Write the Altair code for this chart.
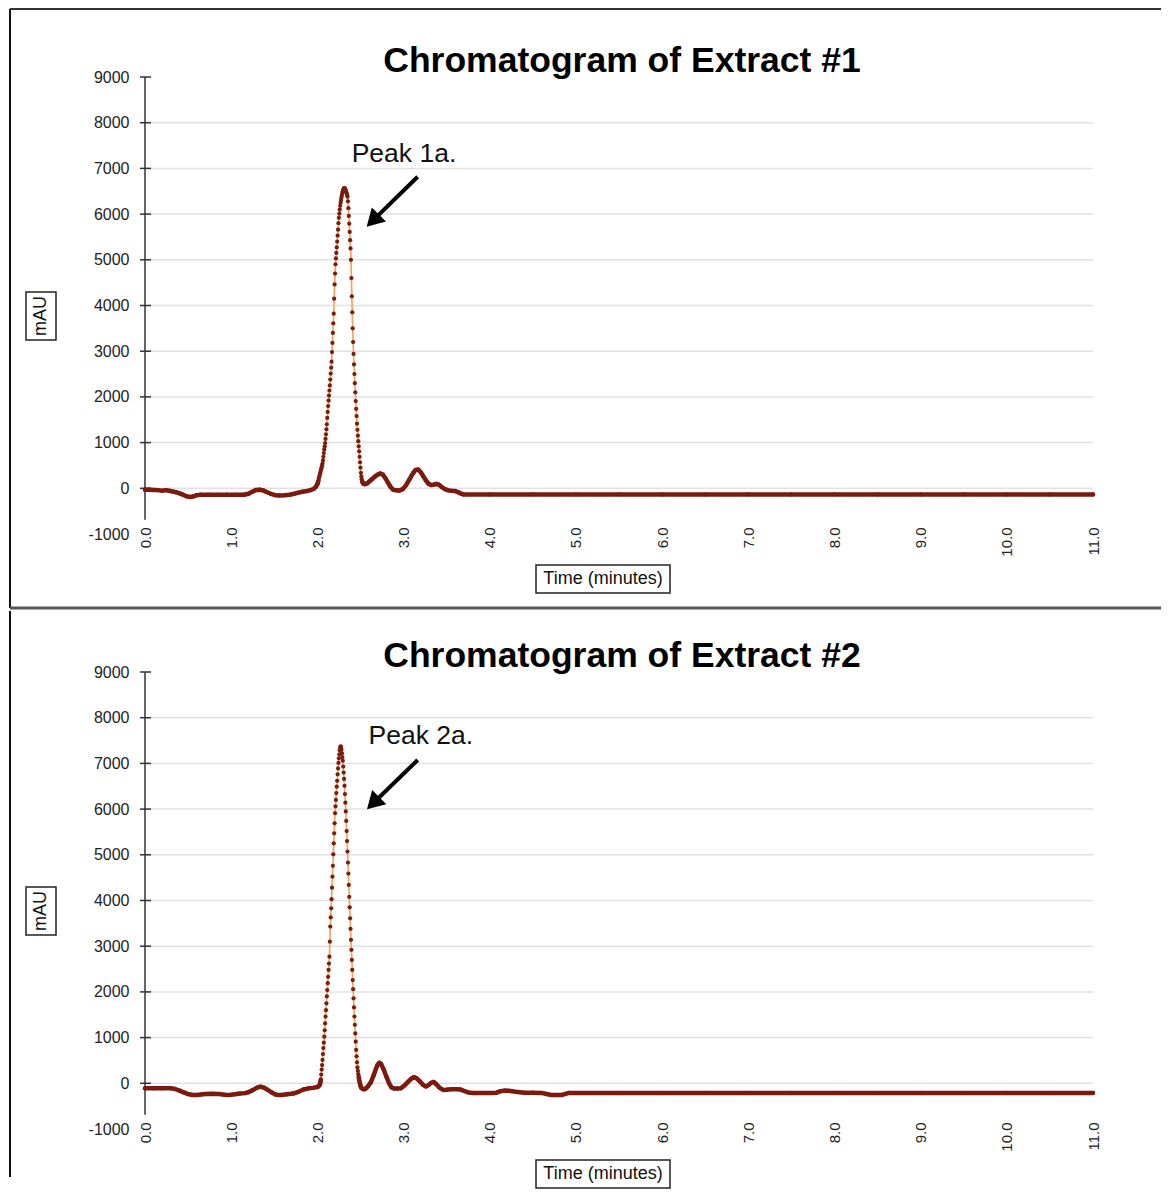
import altair as alt
import pandas as pd

# ---------------- data ----------------
# Extract #1 : retention time (min) and signal (mAU)
time_1 = [
    0.00, 0.05, 0.10, 0.15, 0.20, 0.24, 0.28, 0.32, 0.36, 0.40,
    0.44, 0.48, 0.52, 0.56, 0.60, 0.65, 0.75, 0.85, 0.95, 1.05,
    1.15, 1.20, 1.25, 1.29, 1.33, 1.37, 1.41, 1.46, 1.51, 1.56,
    1.62, 1.68, 1.73, 1.78, 1.83, 1.88, 1.92, 1.96, 1.98,
    2.000, 2.005, 2.010, 2.015, 2.020, 2.025, 2.030, 2.035, 2.040, 2.045,
    2.050, 2.055, 2.060, 2.065, 2.070, 2.075, 2.080, 2.085, 2.090, 2.095,
    2.100, 2.105, 2.110, 2.115, 2.120, 2.125, 2.130, 2.135, 2.140, 2.145,
    2.150, 2.155, 2.160, 2.165, 2.170, 2.175, 2.180, 2.185, 2.190, 2.195,
    2.200, 2.205, 2.210, 2.215, 2.220, 2.225, 2.230, 2.235, 2.240, 2.245,
    2.250, 2.255, 2.260, 2.265, 2.270, 2.275, 2.280, 2.285, 2.290, 2.295,
    2.300, 2.305, 2.310, 2.315, 2.320, 2.325, 2.330, 2.335, 2.340, 2.345,
    2.350, 2.355, 2.360, 2.365, 2.370, 2.375, 2.380, 2.385, 2.390, 2.395,
    2.400, 2.405, 2.410, 2.415, 2.420, 2.425, 2.430, 2.435, 2.440, 2.445,
    2.450, 2.455, 2.460, 2.465, 2.470, 2.475, 2.480, 2.485, 2.490, 2.495,
    2.500, 2.505, 2.510, 2.515, 2.520, 2.525, 2.530, 2.540, 2.550, 2.560,
    2.58, 2.61, 2.64, 2.67, 2.70, 2.73, 2.76, 2.79, 2.82, 2.85,
    2.88, 2.91, 2.95, 2.99, 3.03, 3.07, 3.11, 3.14, 3.17, 3.20,
    3.23, 3.26, 3.29, 3.32, 3.35, 3.38, 3.41, 3.44, 3.48, 3.52,
    3.56, 3.60, 3.64, 3.67, 3.70,
    4.0, 4.5, 5.0, 5.5, 6.0, 6.5, 7.0, 7.5, 8.0, 8.5, 9.0, 9.5, 10.0, 10.5, 11.0,
]
mau_1 = [
    -30, -30, -35, -40, -55, -40, -55, -70, -85, -110,
    -140, -175, -190, -180, -150, -140, -140, -140, -140, -140,
    -140, -120, -70, -35, -30, -45, -80, -120, -150, -155,
    -150, -140, -120, -95, -75, -60, -40, -10, 30,
    90, 120, 150, 190, 240, 270, 310, 350, 390, 420,
    460, 500, 540, 610, 690, 770, 850, 920, 990, 1080,
    1180, 1290, 1400, 1540, 1670, 1800, 1920, 2030, 2140, 2250,
    2380, 2510, 2640, 2770, 2980, 3180, 3400, 3610, 3820, 4150,
    4460, 4700, 4900, 5030, 5150, 5270, 5400, 5530, 5660, 5800,
    5920, 6010, 6100, 6180, 6250, 6310, 6370, 6420, 6460, 6500,
    6530, 6550, 6570, 6570, 6560, 6540, 6510, 6480, 6450, 6420,
    6380, 6280, 6130, 5960, 5790, 5610, 5430, 5250, 5000, 4600,
    4200, 3850, 3500, 3200, 2940, 2710, 2500, 2300, 2100, 1910,
    1740, 1580, 1415, 1280, 1150, 1030, 920, 810, 690, 570,
    450, 340, 260, 200, 160, 130, 110, 95, 90, 95,
    110, 160, 210, 260, 300, 325, 300, 220, 120, 30,
    -30, -45, -50, -20, 70, 200, 330, 400, 410, 350,
    260, 170, 100, 70, 80, 95, 80, 30, -20, -45,
    -55, -60, -90, -120, -135,
    -135, -135, -135, -135, -135, -135, -135, -135, -135, -135, -135, -135, -135, -135, -135,
]

# Extract #2
time_2 = [
    0.00, 0.10, 0.20, 0.30, 0.35, 0.40, 0.45, 0.50, 0.55, 0.60,
    0.65, 0.70, 0.78, 0.86, 0.92, 0.98, 1.04, 1.10, 1.16, 1.20,
    1.25, 1.30, 1.34, 1.38, 1.42, 1.47, 1.52, 1.58, 1.65, 1.72,
    1.78, 1.84, 1.90, 1.95,
    2.000, 2.005, 2.010, 2.015, 2.020, 2.025, 2.030, 2.035, 2.040, 2.045,
    2.050, 2.055, 2.060, 2.065, 2.070, 2.075, 2.080, 2.085, 2.090, 2.095,
    2.100, 2.105, 2.110, 2.115, 2.120, 2.125, 2.130, 2.135, 2.140, 2.145,
    2.150, 2.155, 2.160, 2.165, 2.170, 2.175, 2.180, 2.185, 2.190, 2.195,
    2.200, 2.205, 2.210, 2.215, 2.220, 2.225, 2.230, 2.235, 2.240, 2.245,
    2.250, 2.255, 2.260, 2.265, 2.270, 2.275, 2.280, 2.285, 2.290, 2.295,
    2.300, 2.305, 2.310, 2.315, 2.320, 2.325, 2.330, 2.335, 2.340, 2.345,
    2.350, 2.355, 2.360, 2.365, 2.370, 2.375, 2.380, 2.385, 2.390, 2.395,
    2.400, 2.405, 2.410, 2.415, 2.420, 2.425, 2.430, 2.435, 2.440, 2.445,
    2.450, 2.455, 2.460, 2.465, 2.470, 2.475, 2.480, 2.485, 2.490, 2.495,
    2.500, 2.505, 2.510,
    2.52, 2.535, 2.55, 2.57, 2.59, 2.62, 2.65, 2.68, 2.70, 2.72,
    2.74, 2.77, 2.80, 2.83, 2.86, 2.89, 2.93, 2.97, 3.01, 3.05,
    3.09, 3.12, 3.15, 3.19, 3.23, 3.26, 3.29, 3.32, 3.35, 3.38,
    3.42, 3.46, 3.50, 3.55, 3.61, 3.66, 3.70, 3.75, 3.80, 3.90,
    4.00, 4.08, 4.12, 4.17, 4.22, 4.30, 4.40, 4.50, 4.60, 4.66,
    4.71, 4.78, 4.84, 4.88, 4.92,
    5.0, 5.5, 6.0, 6.5, 7.0, 7.5, 8.0, 8.5, 9.0, 9.5, 10.0, 10.5, 11.0,
]
mau_2 = [
    -110, -110, -110, -110, -125, -160, -200, -235, -255, -255,
    -245, -235, -230, -235, -250, -255, -240, -225, -215, -195,
    -150, -95, -75, -95, -140, -200, -250, -255, -240, -225,
    -185, -135, -110, -100,
    -80, -75, -70, -60, -50, -40, -20, 20, 80, 190,
    300, 400, 510, 640, 770, 890, 1020, 1160, 1310, 1460,
    1600, 1750, 1900, 2040, 2190, 2330, 2480, 2620, 2770, 3100,
    3430, 3630, 3830, 4030, 4280, 4520, 4760, 5010, 5250, 5470,
    5690, 5910, 6060, 6200, 6350, 6490, 6620, 6760, 6890, 7010,
    7110, 7200, 7290, 7350, 7370, 7360, 7300, 7220, 7140, 7060,
    6930, 6800, 6660, 6510, 6330, 6140, 5950, 5740, 5520, 5300,
    5070, 4830, 4590, 4340, 4080, 3850, 3610, 3380, 3140, 2920,
    2700, 2480, 2260, 2060, 1860, 1660, 1460, 1280, 1090, 910,
    730, 590, 460, 350, 270, 200, 140, 80, 30, -10,
    -50, -80, -100,
    -115, -130, -130, -100, -60, 20, 160, 320, 410, 450,
    420, 300, 150, 10, -90, -115, -115, -110, -50, 30,
    100, 135, 110, 40, -40, -70, -40, 10, 30, -20,
    -100, -145, -140, -130, -130, -135, -165, -200, -210, -210,
    -210, -205, -175, -160, -165, -185, -205, -205, -210, -235,
    -255, -255, -255, -230, -210,
    -210, -210, -210, -210, -210, -210, -210, -210, -210, -210, -210, -210, -210,
]

chart_titles = ["Chromatogram of Extract #1", "Chromatogram of Extract #2"]
peak_labels = ["Peak 1a.", "Peak 2a."]
peak_label_time = [3.005, 3.20]
peak_label_mau = [7133, 7425]
arrow_start_time = [3.164, 3.164]
arrow_start_mau = [6818, 7074]
arrow_head_time = [2.643, 2.647]
arrow_head_mau = [5858, 6129]

x_title = "Time (minutes)"
y_title = "mAU"
x_tick_values = [0, 1, 2, 3, 4, 5, 6, 7, 8, 9, 10, 11]
y_label_values = [-1000, 0, 1000, 2000, 3000, 4000, 5000, 6000, 7000, 8000, 9000]
y_tick_values = [0, 1000, 2000, 3000, 4000, 5000, 6000, 7000, 8000, 9000]
grid_values = [0, 1000, 2000, 3000, 4000, 5000, 6000, 7000, 8000]
axis_line_range = [-690, 9000]

assert len(time_1) == len(mau_1), (len(time_1), len(mau_1))
assert len(time_2) == len(mau_2), (len(time_2), len(mau_2))

# ---------------- styling ----------------
FONT = "Liberation Sans"
DARK = "#7b1a0e"
ORANGE = "#f4a460"
W, H = 948, 457
# where the dense sampling makes the trace look like a solid band
SOLID_EXPR = "(datum.t < 2.0 || datum.t > 2.55 || datum.v <= 150) ? datum.v : null"

xscale = alt.Scale(domain=[0, 11], nice=False, zero=False)
yscale = alt.Scale(domain=[-1000, 9000], nice=False, zero=False)

xaxis = alt.Axis(title=None, values=x_tick_values, format=".1f", labelAngle=270,
                 labelAlign="right", labelBaseline="middle", domain=False, ticks=False,
                 tickSize=0, grid=False, labelPadding=-7, labelFont=FONT, labelFontSize=15,
                 labelColor="#222222", labelFlush=False, labelOverlap=False)
yaxis = alt.Axis(title=None, values=y_label_values, labelExpr="toString(datum.value)",
                 domain=False, ticks=False,
                 tickSize=0, grid=False, labelPadding=16, labelFont=FONT, labelFontSize=16,
                 labelColor="#222222", labelFlush=False, labelOverlap=False)


def XQ(field):
    return alt.X(field, scale=xscale, axis=xaxis)


def YQ(field):
    return alt.Y(field, scale=yscale, axis=yaxis)


one = pd.DataFrame({"k": [0]})


def panel(i, times, vals, top_border, bottom_border, show_top, show_bottom):
    df = pd.DataFrame({"t": times, "v": vals})
    base = alt.Chart(df)

    grid = alt.Chart(pd.DataFrame({"g": grid_values})).mark_rule(
        color="#e2e2e2", strokeWidth=1.5
    ).encode(y=YQ("g:Q"), x=alt.value(0), x2=alt.value(W))

    yline = alt.Chart(pd.DataFrame({"a": [axis_line_range[1]], "b": [axis_line_range[0]]})).mark_rule(
        color="#333333", strokeWidth=1.5
    ).encode(x=alt.value(0), y=YQ("a:Q"), y2="b:Q")

    yticks = alt.Chart(pd.DataFrame({"k": y_tick_values})).mark_rule(
        color="#333333", strokeWidth=1.5
    ).encode(y=YQ("k:Q"), x=alt.value(-5), x2=alt.value(6))

    line = base.mark_line(color=ORANGE, strokeWidth=1.7).encode(x=XQ("t:Q"), y=YQ("v:Q"))
    low = base.transform_calculate(vlow=SOLID_EXPR).mark_line(
        color=DARK, strokeWidth=4.5, strokeCap="round", strokeJoin="round",
        invalid="break-paths-show-domains"
    ).encode(x=XQ("t:Q"), y=YQ("vlow:Q"))
    pts = base.mark_circle(size=18, color=DARK, opacity=1).encode(x=XQ("t:Q"), y=YQ("v:Q"))

    title = alt.Chart(pd.DataFrame({"s": [chart_titles[i]]})).mark_text(
        font=FONT, fontSize=35.5, fontWeight="bold", align="center", baseline="alphabetic",
        color="black"
    ).encode(text="s:N", x=alt.value(477), y=alt.value(-5))

    ann = pd.DataFrame({
        "s": [peak_labels[i]], "lt": [peak_label_time[i]], "lv": [peak_label_mau[i]],
        "t0": [arrow_start_time[i]], "v0": [arrow_start_mau[i]],
        "t1": [arrow_head_time[i]], "v1": [arrow_head_mau[i]],
    })
    plabel = alt.Chart(ann).mark_text(
        font=FONT, fontSize=26.5, align="center", baseline="alphabetic", color="#111111"
    ).encode(text="s:N", x=XQ("lt:Q"), y=YQ("lv:Q"))
    ashaft = alt.Chart(ann).mark_rule(color="black", strokeWidth=4).encode(
        x=XQ("t0:Q"), y=YQ("v0:Q"), x2="t1:Q", y2="v1:Q")
    ahead = alt.Chart(ann).mark_point(
        shape="triangle-up", filled=True, size=400, angle=225, color="black", opacity=1,
        strokeWidth=0
    ).encode(x=XQ("t1:Q"), y=YQ("v1:Q"))

    xt_box = alt.Chart(one).mark_rect(fillOpacity=0, stroke="#222222", strokeWidth=1.5).encode(
        x=alt.value(391), x2=alt.value(525), y=alt.value(488), y2=alt.value(516))
    xt_txt = alt.Chart(pd.DataFrame({"s": [x_title]})).mark_text(
        font=FONT, fontSize=18, align="center", baseline="middle", color="#111111"
    ).encode(text="s:N", x=alt.value(458), y=alt.value(502))
    yt_box = alt.Chart(one).mark_rect(fillOpacity=0, stroke="#222222", strokeWidth=1.5).encode(
        x=alt.value(-119), x2=alt.value(-89), y=alt.value(215), y2=alt.value(263))
    yt_txt = alt.Chart(pd.DataFrame({"s": [y_title]})).mark_text(
        font=FONT, fontSize=18, align="center", baseline="middle", angle=270, color="#111111"
    ).encode(text="s:N", x=alt.value(-104), y=alt.value(239))

    b_left = alt.Chart(one).mark_rule(color="#111111", strokeWidth=2).encode(
        x=alt.value(-135), y=alt.value(top_border), y2=alt.value(bottom_border))
    b_top = alt.Chart(one).mark_rule(
        color="#333333", strokeWidth=2, strokeOpacity=1 if show_top else 0
    ).encode(x=alt.value(-135), x2=alt.value(1016), y=alt.value(top_border))
    b_bot = alt.Chart(one).mark_rule(
        color="#555555", strokeWidth=3, strokeOpacity=1 if show_bottom else 0
    ).encode(x=alt.value(-135), x2=alt.value(1016), y=alt.value(bottom_border))

    layers = [grid, yline, yticks, line, low, pts, title, plabel, ashaft, ahead,
              xt_box, xt_txt, yt_box, yt_txt, b_left, b_top, b_bot]
    return alt.layer(*layers).properties(width=W, height=H)


p1 = panel(0, time_1, mau_1, -68, 531, True, True)
p2 = panel(1, time_2, mau_2, -61, 505, False, False)

chart = alt.vconcat(p1, p2, spacing=0).properties(padding=0).configure_view(
    strokeWidth=0, stroke="transparent"
)

chart.save("out.html", embed_options={"renderer": "svg", "actions": False})
